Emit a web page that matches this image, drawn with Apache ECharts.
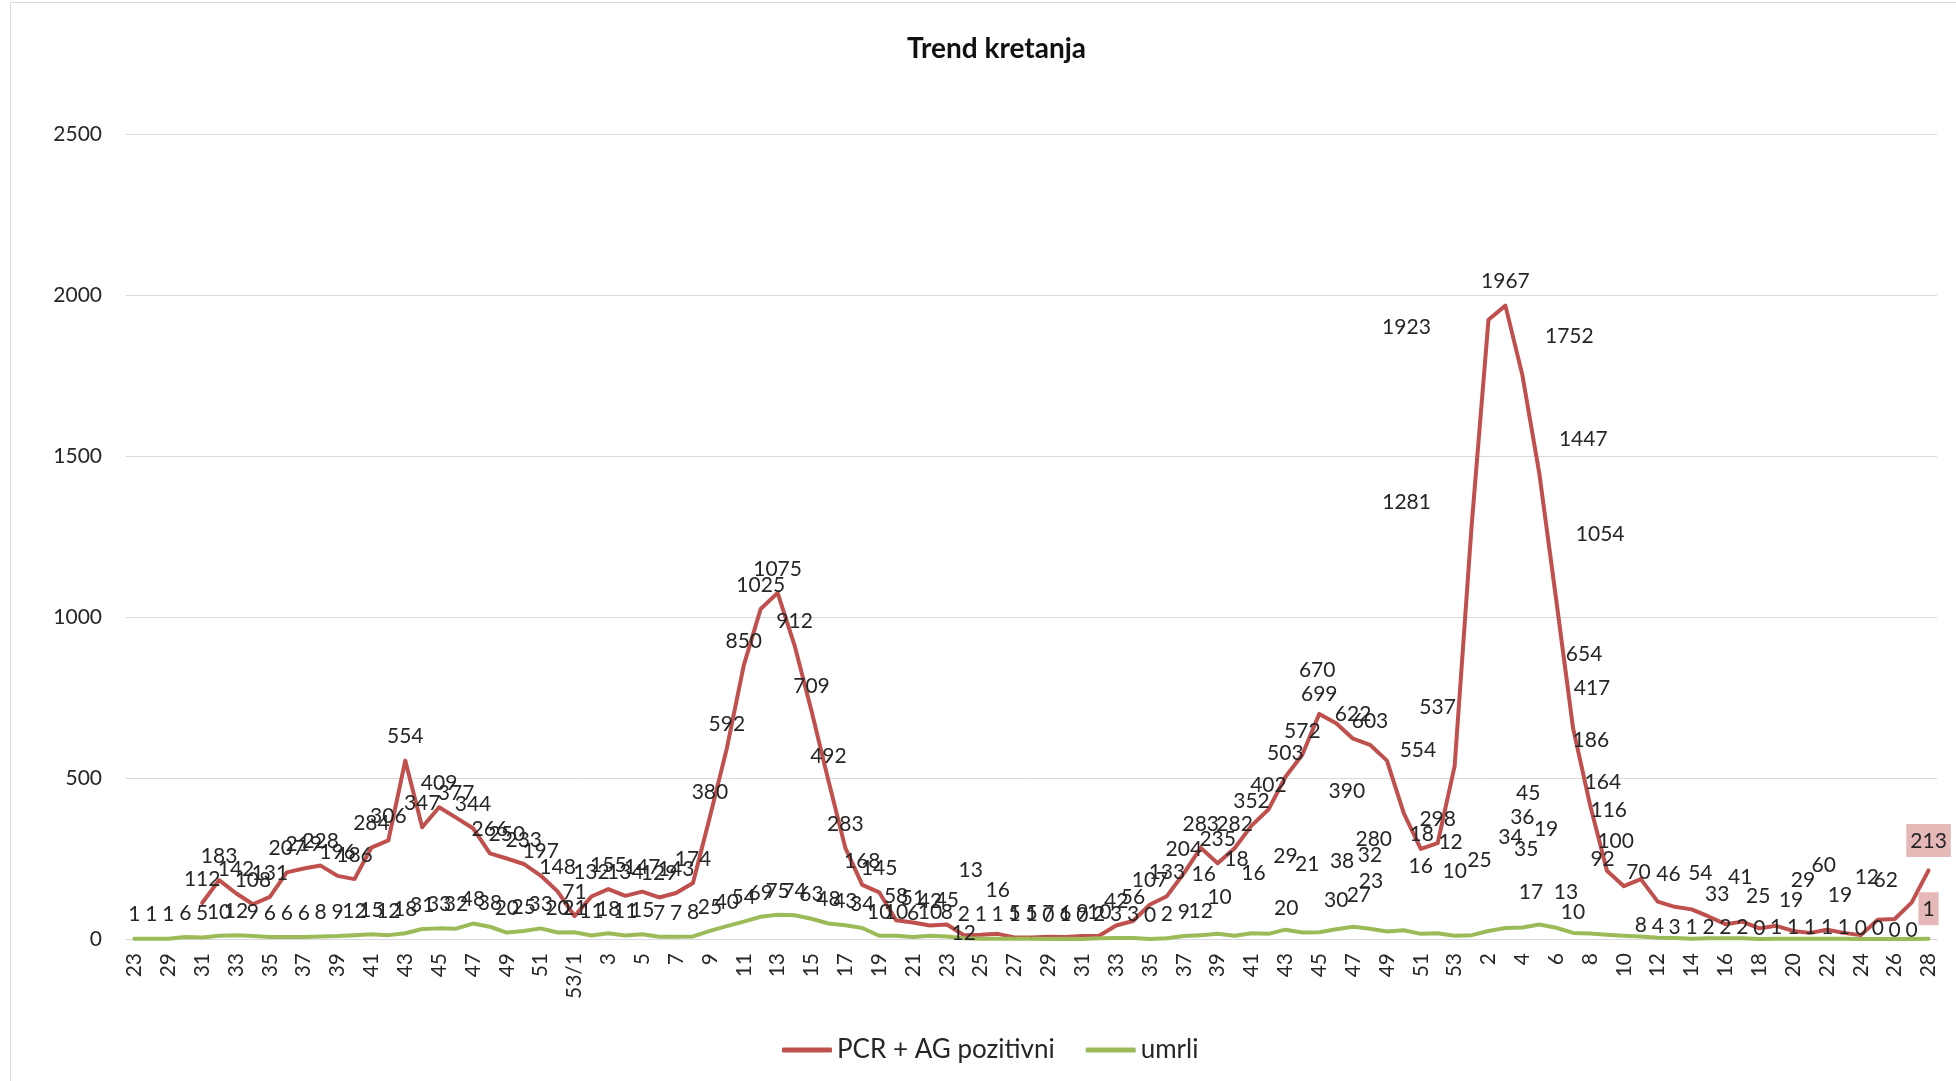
<!DOCTYPE html>
<html>
<head>
<meta charset="utf-8">
<title>Trend kretanja</title>
<script src="https://cdn.jsdelivr.net/npm/echarts@6/dist/echarts.min.js"></script>
<style>
    html, body { margin: 0; padding: 0; background: #fff; }
    #frame { position: absolute; left: 10px; top: 2px; width: 1960px; height: 1100px; border: 1px solid #d9d9d9; }
    #chart { position: absolute; left: 0; top: 0; width: 1956px; height: 1081px; }
</style>
</head>
<body>
<div id="frame"></div>
<div id="chart"></div>
<script>
// tjedni (2020: 23, 28-52, 53/1, 2021: 2-53, 2022: 1-28)
var tjedni = ['23', '28', '29', '30', '31', '32', '33', '34', '35', '36',
    '37', '38', '39', '40', '41', '42', '43', '44', '45', '46',
    '47', '48', '49', '50', '51', '52', '53/1', '2', '3', '4',
    '5', '6', '7', '8', '9', '10', '11', '12', '13', '14',
    '15', '16', '17', '18', '19', '20', '21', '22', '23', '24',
    '25', '26', '27', '28', '29', '30', '31', '32', '33', '34',
    '35', '36', '37', '38', '39', '40', '41', '42', '43', '44',
    '45', '46', '47', '48', '49', '50', '51', '52', '53', '1',
    '2', '3', '4', '5', '6', '7', '8', '9', '10', '11',
    '12', '13', '14', '15', '16', '17', '18', '19', '20', '21',
    '22', '23', '24', '25', '26', '27', '28'];

// PCR + AG pozitivni
var pozitivni = [null, null, null, null, 112, 183, 142, 108, 131, 207,
    219, 228, 196, 186, 284, 306, 554, 347, 409, 377,
    344, 266, 250, 233, 197, 148, 71, 132, 155, 134,
    147, 129, 143, 174, 380, 592, 850, 1025, 1075, 912,
    709, 492, 283, 168, 145, 58, 51, 42, 45, 12,
    13, 16, 5, 5, 7, 6, 9, 10, 42, 56,
    107, 133, 204, 283, 235, 282, 352, 402, 503, 572,
    699, 670, 622, 603, 554, 390, 280, 298, 537, 1281,
    1923, 1967, 1752, 1447, 1054, 654, 417, 212, 164, 186,
    116, 100, 92, 70, 46, 54, 33, 41, 25, 19,
    29, 19, 12, 60, 62, 113, 213];

// umrli
var umrli = [1, 1, 1, 6, 5, 10, 12, 9, 6, 6,
    6, 8, 9, 12, 15, 12, 18, 31, 33, 32,
    48, 38, 20, 25, 33, 20, 21, 11, 18, 11,
    15, 7, 7, 8, 25, 40, 54, 69, 75, 74,
    63, 48, 43, 34, 10, 10, 6, 10, 8, 2,
    1, 1, 1, 1, 0, 1, 0, 2, 3, 3,
    0, 2, 9, 12, 16, 10, 18, 16, 29, 20,
    21, 30, 38, 32, 23, 27, 16, 18, 10, 12,
    25, 34, 36, 45, 35, 19, 17, 13, 10, 8,
    4, 3, 1, 2, 2, 2, 0, 1, 1, 1,
    1, 1, 0, 0, 0, 0, 1];

var yMax = 2500;
var yStep = 500;

// rucno pomaknute oznake (index: [dx, dy] u pikselima)
var pomakPoz = {
    49: [0, 22], 50: [-10, -41], 51: [0, -20],
    70: [0, 4], 71: [-19, -29], 74: [31, 14], 75: [-57, 2], 76: [-47, 14], 78: [-17, -35],
    79: [-65, 0], 80: [-82, 31], 82: [47, -15], 83: [44, -10], 84: [44, -41],
    85: [11, -50], 86: [2, -92], 88: [-21, -80], 89: [-50, -115], 90: [-49, -67],
    91: [-59, -42], 92: [-89, -26], 93: [-70, -20], 94: [-57, -26], 95: [-42, -24],
    96: [-42, -10], 97: [-36, -25], 98: [-35, -11], 99: [-19, -9], 100: [-24, -25],
    101: [-4, -14], 102: [6, -34], 103: [-54, -30], 104: [-9, -15]
};
var pomakUmrli = {
    64: [-14, -36], 65: [-15, -15], 66: [-15, -50], 67: [-15, -37], 68: [0, -49],
    69: [-16, 0], 70: [-12, -44], 71: [0, -5], 72: [-11, -42], 73: [0, -49],
    74: [-16, -26], 75: [-45, -11], 76: [0, -44], 77: [-16, -75], 78: [0, -41],
    79: [-21, -69], 80: [-9, -47], 81: [5, -67], 82: [0, -86], 83: [-11, -107],
    84: [-30, -54], 85: [-27, -80], 86: [-59, -17], 87: [-41, -19], 88: [-51, 0],
    89: [0, 13], 90: [0, 13], 91: [0, 13], 92: [0, 13], 93: [0, 13], 94: [0, 13],
    95: [0, 13], 96: [0, 13], 97: [0, 13], 98: [0, 13], 99: [0, 13], 100: [0, 13],
    101: [0, 13], 102: [0, 13], 103: [0, 13], 104: [0, 15], 105: [0, 15]
};
var bezOznakePoz = [87, 105];

var font = 'Lato, "Noto Sans", sans-serif';
var txt = '#262626';

function buildData(arr, pomak, skrij) {
    var out = [];
    for (var i = 0; i < arr.length; i++) {
        var item = {value: arr[i]};
        if (pomak[i]) {
            item.label = {offset: pomak[i]};
        }
        if (skrij.indexOf(i) >= 0) {
            item.label = {show: false};
        }
        if (i === arr.length - 1) {
            // zadnja tocka ima oznaku u rozoj kucici
            item.label = {backgroundColor: '#e6b9b8', padding: [7, 4, 5, 4]};
        }
        out.push(item);
    }
    return out;
}

var dom = document.getElementById('chart');
var myChart = echarts.init(dom);
var option = {
    animation: false,
    textStyle: {fontFamily: font},
    title: {
        text: 'Trend kretanja',
        left: 902,
        top: 30,
        textStyle: {fontSize: 28, fontWeight: 'bold', color: '#111', fontFamily: font}
    },
    legend: {
        left: 777,
        top: 1032,
        itemWidth: 50,
        itemHeight: 5,
        itemGap: 31,
        icon: 'roundRect',
        textStyle: {fontSize: 26, color: txt, fontFamily: font},
        data: ['PCR + AG pozitivni', 'umrli']
    },
    grid: {left: 126, right: 19, top: 134, bottom: 142},
    xAxis: {
        type: 'category',
        data: tjedni,
        boundaryGap: true,
        axisLine: {lineStyle: {color: '#d9d9d9', width: 1}},
        axisTick: {show: false},
        axisLabel: {
            interval: 1,
            rotate: 90,
            fontSize: 21,
            color: txt,
            margin: 14,
            fontFamily: font
        }
    },
    yAxis: {
        type: 'value',
        min: 0,
        max: yMax,
        interval: yStep,
        axisLine: {show: false},
        axisTick: {show: false},
        splitLine: {lineStyle: {color: '#d9d9d9', width: 1}},
        axisLabel: {
            fontSize: 21,
            color: txt,
            margin: 24,
            fontFamily: font,
            formatter: function (v) { return String(v); }
        }
    },
    series: [
        {
            name: 'PCR + AG pozitivni',
            type: 'line',
            data: buildData(pozitivni, pomakPoz, bezOznakePoz),
            symbol: 'circle',
            symbolSize: 1,
            showAllSymbol: true,
            itemStyle: {color: '#c0504d'},
            lineStyle: {color: '#c0504d', width: 4, cap: 'round', join: 'round'},
            label: {
                show: true,
                position: 'top',
                distance: 13,
                fontSize: 21,
                color: txt,
                fontFamily: font
            }
        },
        {
            name: 'umrli',
            type: 'line',
            data: buildData(umrli, pomakUmrli, []),
            symbol: 'circle',
            symbolSize: 1,
            showAllSymbol: true,
            itemStyle: {color: '#9bbb59'},
            lineStyle: {color: '#9bbb59', width: 4, cap: 'round', join: 'round'},
            label: {
                show: true,
                position: 'top',
                distance: 13,
                fontSize: 21,
                color: txt,
                fontFamily: font
            }
        }
    ]
};
myChart.setOption(option);
</script>
</body>
</html>
